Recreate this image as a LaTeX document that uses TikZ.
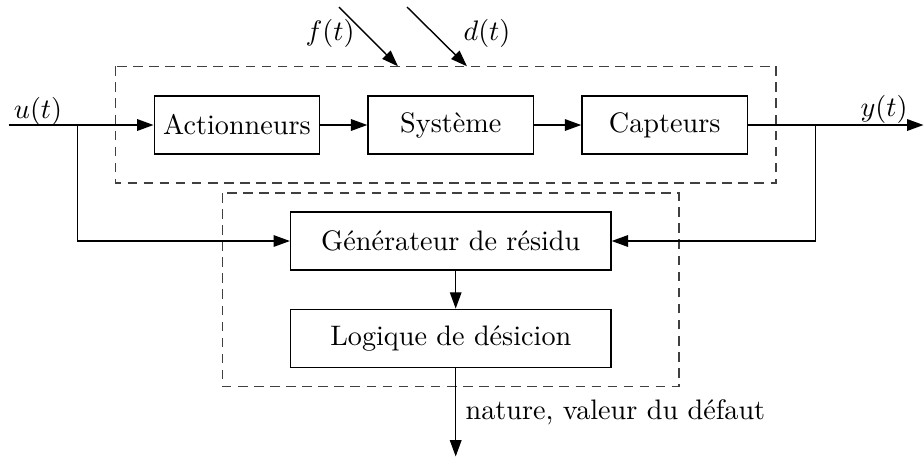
\documentclass[tikz,border=0pt]{standalone}
\usetikzlibrary{arrows.meta}
\begin{document}
\begin{tikzpicture}[x=0.3546pt,y=-0.3546pt,
  line width=0.5pt,
  >={Triangle[length=5.8pt,width=4.1pt]},
  box/.style={draw, inner sep=0pt, minimum height=20.55pt},
  smallbox/.style={box, minimum width=58.7pt},
  bigbox/.style={box, minimum width=113.6pt},
  dashbox/.style={draw=black!75, dash pattern=on 3.4pt off 2.3pt},
  lab/.style={inner sep=0pt}]
\useasboundingbox (0,0) rectangle (924,457);
% dashed groups
\draw[dashbox] (115.7,66.3) rectangle (776,183);
\draw[dashbox] (222.7,193) rectangle (679,386.7);
% blocks
\node[smallbox] (act) at (237,125) {Actionneurs};
\node[smallbox] (sys) at (450.8,125) {Système};
\node[smallbox] (cap) at (664.7,125) {Capteurs};
\node[bigbox] (gen) at (450.8,241) {Générateur de résidu};
\node[bigbox] (log) at (450.8,338.3) {Logique de désicion};
% coordinates
\coordinate (uin) at (9,125);
\coordinate (ub) at (77.3,125);
\coordinate (yb) at (815.7,125);
\coordinate (yout) at (923.5,125);
\coordinate (fs) at (339,7);
\coordinate (fe) at (398,66.3);
\coordinate (ds) at (407,7);
\coordinate (de) at (467,66.3);
\coordinate (out) at (455.7,456.5);
% labels
\node[lab] (ul) at (38,111) {$u(t)$};
\node[lab] (yl) at (884,109) {$y(t)$};
\node[lab] (fl) at (330,33) {$f(t)$};
\node[lab] (dl) at (487,33) {$d(t)$};
\node[lab, anchor=west] (nl) at (465,412) {nature, valeur du défaut};
% connectors
\draw (uin) -- (ub);
\draw[->] (ub) -- (act);
\draw[->] (act) -- (sys);
\draw[->] (sys) -- (cap);
\draw (cap) -- (yb);
\draw[->] (yb) -- (yout);
\draw[->] (ub) |- (gen);
\draw[->] (yb) |- (gen);
\draw[->] (fs) -- (fe);
\draw[->] (ds) -- (de);
\draw[->] (gen.south -| out) -- (log.north -| out);
\draw[->] (log.south -| out) -- (out);
\end{tikzpicture}
\end{document}
